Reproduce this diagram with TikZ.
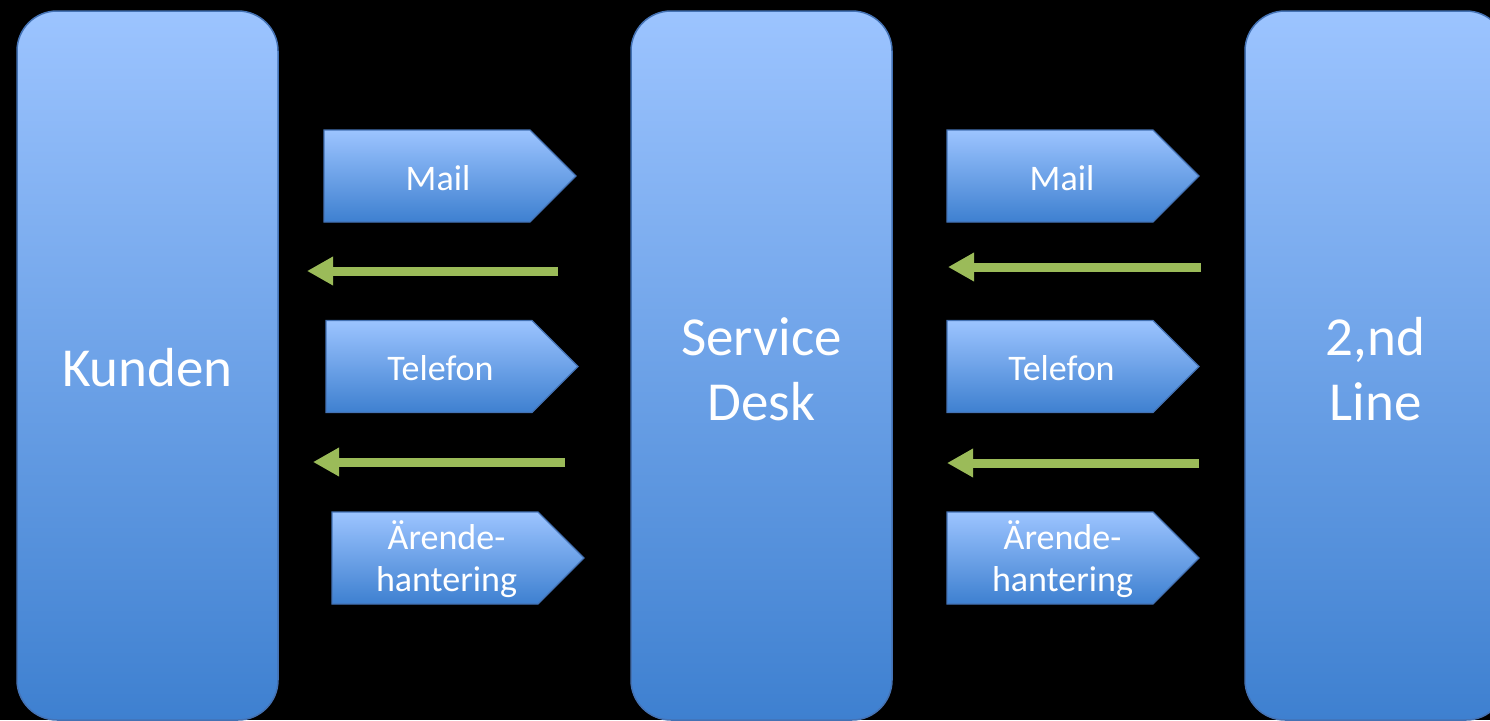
\documentclass[tikz,border=0pt]{standalone}
\usepackage{fontspec}
\setmainfont{Carlito}
\usetikzlibrary{shapes.symbols,arrows.meta}
\definecolor{boxtop}{RGB}{156,196,255}
\definecolor{boxmid}{RGB}{132,180,244}
\definecolor{boxbot}{RGB}{62,128,208}
\definecolor{boxline}{RGB}{68,114,180}
\definecolor{arrgreen}{RGB}{155,187,89}
\newcommand{\lift}[1]{\rule{0pt}{#1}}
\begin{document}
\begin{tikzpicture}[x=1pt,y=-1pt,
  bigbox/.style={rectangle, rounded corners=40pt, draw=boxline, line width=1.5pt,
    top color=boxtop, middle color=boxmid, bottom color=boxbot,
    minimum width=261pt, minimum height=709pt, inner sep=0pt,
    text=white, align=center, font=\fontsize{55}{65}\selectfont},
  chev/.style={signal, signal to=east, signal pointer angle=90, draw=boxline, line width=1.2pt,
    top color=boxtop, middle color=boxmid, bottom color=boxbot,
    minimum width=252pt, minimum height=92pt, inner sep=0pt},
  lbl/.style={text=white, align=center, font=\fontsize{36}{42}\selectfont, inner sep=0pt},
  back/.style={arrgreen, line width=9pt, -{Triangle[length=26pt,width=27pt]}}
]
\useasboundingbox (0,0) rectangle (1490,720);
\fill[black] (0,0) rectangle (1490,720);
\clip (0,0) rectangle (1490,720);

% main boxes
\node[bigbox] (kunden) at (147.5,365.5) {\lift{42pt}Kunden};
\node[bigbox] (desk) at (761.5,365.5) {\lift{46pt}Service\\Desk};
\node[bigbox] (line2) at (1375.5,365.5) {\lift{46pt}2,nd\\Line};

% left column chevrons (node centre = centre of the rectangular body)
\node[chev] (lmail) at (427,176) {};
\node[lbl] (lmailt) at (438,178) {Mail};
\node[chev] (ltel) at (429,366.5) {};
\node[lbl] (ltelt) at (440.5,368) {Telefon};
\node[chev] (lare) at (435,558) {};
\node[lbl] (laret) at (446.5,559) {Ärende-\\hantering};

% right column chevrons
\node[chev] (rmail) at (1050,176) {};
\node[lbl] (rmailt) at (1062,178) {Mail};
\node[chev] (rtel) at (1050,366.5) {};
\node[lbl] (rtelt) at (1061.5,368) {Telefon};
\node[chev] (rare) at (1050,558) {};
\node[lbl] (raret) at (1062.5,559) {Ärende-\\hantering};

% green return arrows
\coordinate (la1s) at (558,271);
\coordinate (la1e) at (307,271);
\coordinate (la2s) at (565,462);
\coordinate (la2e) at (313,462);
\coordinate (ra1s) at (1201,267);
\coordinate (ra1e) at (948,267);
\coordinate (ra2s) at (1199,463);
\coordinate (ra2e) at (947,463);
\draw[back] (la1s) -- (la1e);
\draw[back] (la2s) -- (la2e);
\draw[back] (ra1s) -- (ra1e);
\draw[back] (ra2s) -- (ra2e);
\end{tikzpicture}
\end{document}
